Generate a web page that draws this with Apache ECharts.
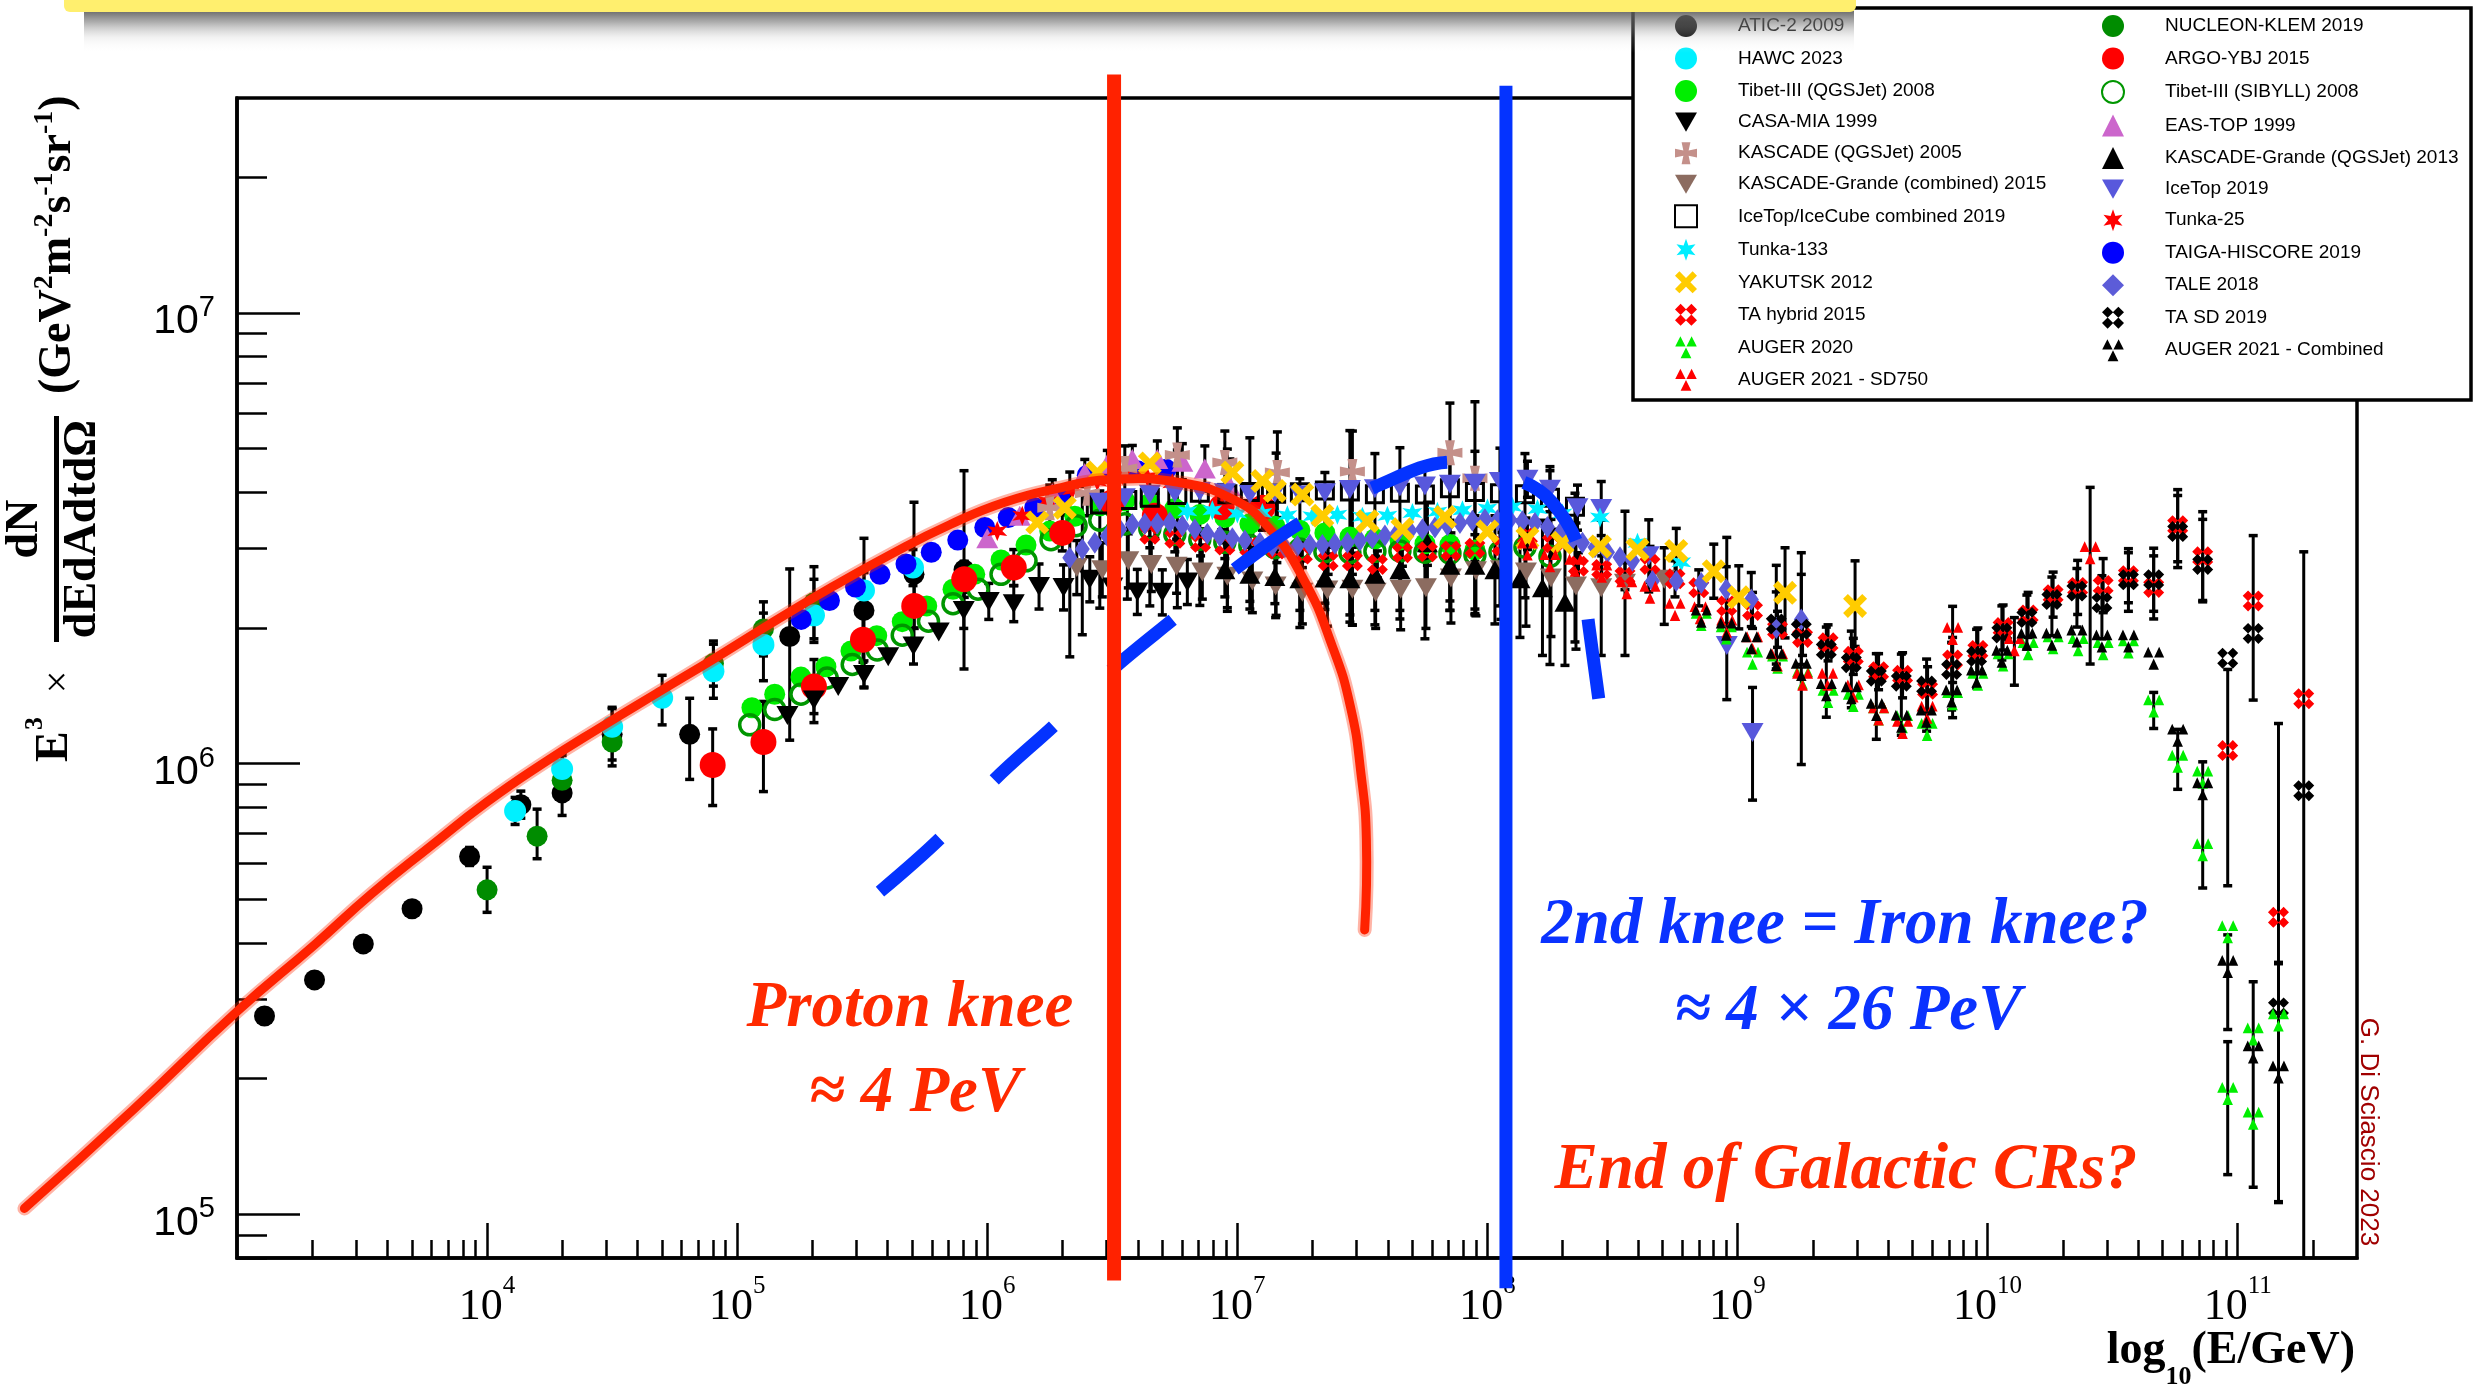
<!DOCTYPE html>
<html>
<head>
<meta charset="utf-8">
<script src="https://cdn.jsdelivr.net/npm/echarts@6/dist/echarts.min.js"></script>
<style>
html,body{margin:0;padding:0;background:#ffffff;}
#chart{width:2487px;height:1390px;}
</style>
</head>
<body>
<div id="chart"></div>
<script>
// ---------------- axes (log10 units) ----------------
const X_TICK_EXP = [4, 5, 6, 7, 8, 9, 10, 11];
const Y_TICK_EXP = [5, 6, 7];
const X_RANGE = [3, 11.477];    // 1e3 .. 3e11 GeV
const Y_RANGE = [4.903, 7.477]; // 8e4 .. 3e7

// each point: [log10(E/GeV), log10(E^3 dN/dEdAdtdOmega), errDown(dex), errUp(dex)]
const ATIC = [[3.11,5.44],[3.31,5.52],[3.505,5.60],[3.70,5.678],[3.93,5.794,0.02,0.02],[4.135,5.909,0.03,0.03],[4.30,5.935,0.05,0.09],[4.50,6.065,0.07,0.06],[4.81,6.065,0.10,0.08],[5.21,6.282,0.23,0.15],[5.507,6.34,0.17,0.16],[5.707,6.42,0.15,0.16],[5.907,6.43,0.22,0.22]];
const NUCLEON = [[4.0,5.72,0.05,0.05],[4.20,5.839,0.05,0.06],[4.30,5.963,0.04,0.04],[4.50,6.048,0.04,0.04],[4.905,6.222,0.05,0.05],[5.105,6.299,0.06,0.06],[5.307,6.357,0.08,0.08]];
const HAWC = [[4.112,5.895,0.03,0.03],[4.30,5.988,0.03,0.03],[4.50,6.082,0.04,0.04],[4.70,6.146,0.06,0.05],[4.905,6.205,0.06,0.06],[5.105,6.264,0.08,0.07],[5.307,6.329,0.06,0.08],[5.507,6.384,0.04,0.04],[5.703,6.435,0.04,0.04]];
const TAIGA = [[5.256,6.320],[5.369,6.362],[5.473,6.392],[5.571,6.420],[5.675,6.443],[5.776,6.469],[5.882,6.496],[5.990,6.524],[6.084,6.546],[6.190,6.568],[6.290,6.597],[6.400,6.640],[6.500,6.648],[6.600,6.650],[6.715,6.653]];
const TIBET_QGS = [[5.059,6.124],[5.150,6.154],[5.255,6.192],[5.355,6.215],[5.455,6.250],[5.558,6.284],[5.660,6.315],[5.758,6.350],[5.863,6.387],[5.950,6.420],[6.055,6.452],[6.155,6.485],[6.250,6.516],[6.350,6.549],[6.450,6.572],[6.550,6.583],[6.650,6.578],[6.750,6.566],[6.850,6.553],[6.950,6.546],[7.050,6.532],[7.150,6.527],[7.250,6.518],[7.350,6.512],[7.450,6.503],[7.550,6.499],[7.650,6.496],[7.750,6.488],[7.850,6.486],[7.950,6.474]];
const TIBET_SIB = [[5.050,6.086],[5.150,6.120],[5.255,6.154],[5.360,6.190],[5.460,6.220],[5.560,6.252],[5.660,6.285],[5.765,6.316],[5.863,6.355],[5.963,6.387],[6.055,6.420],[6.155,6.450],[6.255,6.497],[6.355,6.528],[6.450,6.540],[6.550,6.532],[6.650,6.521],[6.750,6.509],[6.850,6.498],[6.950,6.491],[7.050,6.484],[7.150,6.479],[7.250,6.476],[7.350,6.470],[7.450,6.468],[7.550,6.471],[7.650,6.472],[7.750,6.469],[7.850,6.467],[7.950,6.463],[8.050,6.470],[8.150,6.480],[8.250,6.460]];
const ARGO = [[4.902,5.997,0.09,0.08],[5.105,6.048,0.11,0.09],[5.307,6.171,0.06,0.06],[5.503,6.275,0.05,0.05],[5.708,6.350,0.05,0.10],[5.908,6.409,0.04,0.04],[6.106,6.435,0.04,0.04],[6.300,6.512,0.04,0.04],[6.500,6.580,0.05,0.05],[6.670,6.550,0.05,0.05],[6.937,6.569,0.05,0.05],[7.100,6.568,0.05,0.05]];
const CASA = [[5.201,6.107],[5.307,6.141,0.05,0.05],[5.404,6.171],[5.507,6.198,0.03,0.03],[5.604,6.237],[5.705,6.261,0.04,0.04],[5.806,6.292],[5.906,6.340,0.04,0.04],[6.006,6.360,0.04,0.04],[6.106,6.355,0.04,0.04],[6.207,6.393,0.05,0.05],[6.305,6.391,0.05,0.05],[6.410,6.409,0.05,0.05],[6.500,6.392,0.05,0.05],[6.600,6.381,0.05,0.05],[6.700,6.380,0.05,0.05],[6.800,6.403,0.05,0.05]];
const EASTOP = [[6.00,6.500],[6.13,6.550],[6.26,6.600,0.03,0.03],[6.39,6.645,0.03,0.03],[6.48,6.665,0.03,0.03],[6.58,6.676,0.03,0.03],[6.68,6.676,0.04,0.04],[6.78,6.670,0.04,0.04],[6.87,6.655,0.05,0.05],[6.97,6.616,0.06,0.06]];
const TUNKA25 = [[6.04,6.516],[6.14,6.550],[6.24,6.582],[6.34,6.607],[6.44,6.626],[6.54,6.640],[6.64,6.636],[6.74,6.622]];
const KASCADE = [[6.25,6.568,0.05,0.05],[6.40,6.600,0.05,0.05],[6.55,6.655,0.06,0.05],[6.76,6.685,0.07,0.06],[6.95,6.668,0.08,0.07],[7.16,6.646,0.10,0.09],[7.46,6.648,0.34,0.09],[7.85,6.690,0.35,0.11],[7.95,6.633,0.30,0.17]];
const KG_COMB = [[6.358,6.435,0.06,0.06],[6.460,6.430,0.06,0.06],[6.564,6.450,0.06,0.06],[6.656,6.442,0.06,0.06],[6.757,6.438,0.06,0.06],[6.860,6.425,0.06,0.06],[6.960,6.416,0.07,0.07],[7.060,6.405,0.07,0.07],[7.153,6.394,0.07,0.07],[7.260,6.380,0.07,0.07],[7.360,6.385,0.08,0.08],[7.460,6.387,0.08,0.08],[7.553,6.380,0.08,0.08],[7.653,6.387,0.09,0.09],[7.754,6.390,0.09,0.09],[7.854,6.412,0.10,0.10],[7.954,6.428,0.10,0.10],[8.054,6.430,0.11,0.11],[8.154,6.425,0.12,0.12],[8.254,6.412,0.13,0.13],[8.354,6.394,0.14,0.14],[8.455,6.390,0.15,0.15],[8.550,6.400,0.16,0.16],[8.707,6.409,0.10,0.07]];
const KG_QGS = [[6.950,6.430,0.06,0.06],[7.050,6.420,0.06,0.06],[7.150,6.415,0.06,0.06],[7.250,6.410,0.07,0.07],[7.350,6.412,0.07,0.07],[7.450,6.410,0.08,0.08],[7.550,6.420,0.08,0.08],[7.650,6.430,0.09,0.09],[7.760,6.490,0.09,0.09],[7.850,6.440,0.10,0.10],[7.950,6.440,0.11,0.11],[8.030,6.430,0.12,0.12],[8.130,6.410,0.13,0.13],[8.220,6.390,0.15,0.15],[8.310,6.358,0.14,0.18]];
const ICETOP = [[6.45,6.580],[6.55,6.590],[6.65,6.598],[6.75,6.600],[6.85,6.604],[6.95,6.601],[7.05,6.597],[7.15,6.600],[7.25,6.596],[7.35,6.601],[7.45,6.608],[7.55,6.610],[7.65,6.614],[7.75,6.616],[7.85,6.620],[7.95,6.622],[8.05,6.626],[8.16,6.631,0.04,0.04],[8.25,6.609,0.05,0.05],[8.36,6.568,0.05,0.05],[8.455,6.566,0.06,0.06],[8.645,6.461,0.08,0.08],[8.957,6.262,0.12,0.24],[9.06,6.069,0.15,0.10]];
const ICECUBE = [[6.45,6.575,0.23,0.03],[6.56,6.585,0.22,0.02],[6.65,6.590,0.24,0.04],[6.76,6.596,0.25,0.10],[6.85,6.601,0.25,0.02],[6.96,6.598,0.26,0.10],[7.05,6.603,0.26,0.12],[7.155,6.599,0.27,0.09],[7.25,6.602,0.30,0.03],[7.35,6.606,0.25,0.04],[7.45,6.604,0.29,0.135],[7.55,6.598,0.29,0.09],[7.65,6.601,0.28,0.10],[7.75,6.597,0.32,0.06],[7.85,6.611,0.25,0.08],[7.95,6.603,0.26,0.09],[8.05,6.600,0.25,0.10],[8.15,6.598,0.23,0.09],[8.25,6.590,0.37,0.06],[8.35,6.570,0.30,0.03]];
const TUNKA133 = [[6.80,6.560],[6.90,6.562],[7.00,6.555],[7.10,6.556],[7.20,6.551],[7.30,6.549],[7.40,6.552],[7.50,6.548],[7.60,6.550],[7.70,6.556],[7.80,6.559],[7.90,6.562],[8.00,6.566],[8.10,6.570],[8.20,6.565],[8.30,6.555],[8.45,6.546],[8.60,6.490],[8.775,6.447]];
const TALE = [[6.33,6.457,0.22,0.19],[6.38,6.476,0.19,0.12],[6.43,6.490],[6.48,6.505],[6.53,6.520],[6.58,6.531],[6.63,6.532],[6.68,6.533],[6.73,6.535],[6.78,6.528],[6.83,6.520],[6.88,6.510],[6.93,6.505],[6.98,6.500],[7.03,6.495],[7.09,6.490],[7.14,6.483],[7.19,6.480],[7.24,6.483],[7.29,6.486],[7.34,6.485],[7.39,6.488],[7.44,6.490],[7.49,6.495],[7.54,6.500],[7.59,6.506],[7.64,6.513],[7.69,6.517],[7.74,6.520],[7.79,6.524],[7.84,6.529],[7.89,6.534],[7.94,6.539],[7.99,6.542],[8.04,6.540],[8.09,6.541],[8.14,6.538],[8.19,6.534],[8.24,6.525],[8.29,6.511],[8.34,6.498],[8.38,6.490],[8.43,6.480],[8.48,6.469],[8.53,6.458],[8.58,6.450],[8.66,6.405],[8.755,6.405],[8.855,6.401],[8.955,6.387,0.05,0.05],[9.055,6.364,0.06,0.06],[9.155,6.301,0.08,0.08],[9.255,6.320,0.10,0.10]];
const YAKUTSK = [[6.20,6.535],[6.31,6.568],[6.44,6.646],[6.65,6.666],[6.98,6.646],[7.10,6.627],[7.15,6.605],[7.26,6.597],[7.34,6.550],[7.52,6.538],[7.66,6.520],[7.83,6.547],[8.00,6.515],[8.16,6.500],[8.30,6.490],[8.45,6.482],[8.60,6.475],[8.755,6.472,0.05,0.05],[8.905,6.427,0.06,0.06],[9.005,6.369,0.07,0.07],[9.19,6.379,0.10,0.10],[9.47,6.350,0.09,0.10]];
const TA_HYB = [[6.65,6.509,0.03,0.03],[6.75,6.500,0.03,0.03],[6.853,6.491,0.03,0.03],[6.95,6.485,0.03,0.03],[7.05,6.480,0.03,0.03],[7.158,6.476,0.03,0.03],[7.26,6.465,0.03,0.03],[7.363,6.450,0.03,0.03],[7.46,6.450,0.03,0.03],[7.56,6.442,0.03,0.03],[7.66,6.468,0.03,0.03],[7.76,6.470,0.03,0.03],[7.854,6.472,0.03,0.03],[7.95,6.478,0.03,0.03],[8.058,6.483,0.03,0.03],[8.16,6.505,0.03,0.03],[8.26,6.490,0.03,0.03],[8.364,6.438,0.03,0.03],[8.457,6.431,0.03,0.03],[8.55,6.416,0.03,0.03],[8.65,6.442,0.04,0.04],[8.75,6.410,0.04,0.04],[8.845,6.390,0.04,0.04],[8.957,6.350,0.04,0.04],[9.06,6.340,0.04,0.04],[9.16,6.298,0.04,0.04],[9.26,6.280,0.04,0.04],[9.362,6.268,0.04,0.04],[9.463,6.238,0.04,0.04],[9.564,6.204,0.04,0.04],[9.66,6.196,0.05,0.05],[9.76,6.165,0.05,0.05],[9.86,6.230,0.05,0.05],[9.961,6.251,0.05,0.05],[10.062,6.302,0.05,0.05],[10.162,6.330,0.05,0.05],[10.262,6.375,0.05,0.05],[10.36,6.391,0.06,0.06],[10.462,6.395,0.06,0.06],[10.563,6.417,0.06,0.06],[10.664,6.391,0.07,0.07],[10.76,6.528,0.08,0.08],[10.86,6.459,0.10,0.10],[10.96,6.029,0.30,0.18],[11.062,6.361,0.22,0.145],[11.163,5.659,0.10,0.43],[11.264,6.144]];
const TA_SD = [[9.155,6.310,0.10,0.13],[9.255,6.298,0.30,0.17],[9.355,6.253,0.15,0.05],[9.455,6.224,0.10,0.07],[9.555,6.194,0.14,0.05],[9.655,6.183,0.12,0.06],[9.756,6.172,0.10,0.06],[9.856,6.209,0.09,0.06],[9.956,6.238,0.07,0.06],[10.057,6.290,0.06,0.06],[10.157,6.324,0.07,0.05],[10.257,6.364,0.08,0.05],[10.357,6.383,0.08,0.05],[10.457,6.357,0.08,0.06],[10.563,6.408,0.07,0.06],[10.664,6.408,0.07,0.07],[10.76,6.515,0.08,0.08],[10.86,6.442,0.08,0.10],[10.96,6.234],[11.062,6.289],[11.163,5.458,0.43,0.10],[11.264,5.940,1.3,0.53]];
const AUGER20 = [[8.855,6.320],[8.955,6.290],[9.06,6.234],[9.16,6.225],[9.26,6.190],[9.362,6.149],[9.463,6.140],[9.564,6.110],[9.66,6.093],[9.758,6.076],[9.86,6.144],[9.961,6.187],[10.062,6.230],[10.162,6.255],[10.262,6.268],[10.362,6.264],[10.462,6.255],[10.563,6.259],[10.664,6.128,0.05,0.03],[10.76,6.005],[10.86,5.970],[10.86,5.809],[10.96,5.627],[10.96,5.268,0.18,0.115],[11.062,5.400],[11.062,5.213],[11.163,5.431]];
const AUGER_SD750 = [[8.16,6.476],[8.25,6.450],[8.35,6.440],[8.457,6.427],[8.557,6.390],[8.65,6.380],[8.75,6.342],[8.85,6.335],[8.957,6.305],[9.06,6.268],[9.16,6.230],[9.26,6.187],[9.36,6.187],[9.463,6.161],[9.564,6.110],[9.66,6.080],[9.758,6.114],[9.86,6.289,0.187,0.06],[10.107,6.264,0.09,0.06],[10.41,6.468,0.247,0.145]];
const AUGER_COMB = [[8.855,6.327],[8.955,6.298],[9.055,6.268],[9.155,6.231],[9.255,6.209],[9.355,6.164],[9.455,6.157],[9.555,6.120],[9.655,6.094],[9.755,6.105],[9.856,6.150],[9.956,6.194],[10.057,6.238],[10.157,6.276],[10.257,6.276],[10.357,6.283],[10.457,6.272],[10.563,6.272],[10.664,6.234],[10.76,6.063,0.12,0.013],[10.86,5.944,0.22,0.06],[10.96,5.550,0.14,0.07],[11.062,5.360,0.30,0.156],[11.163,5.316,0.29,0.24]];

// hand-drawn annotation curves (log10 E, log10 flux)
const PROTON_CURVE = [[2.15,5.013],[2.585,5.232],[3.0,5.45],[3.31,5.598],[3.54,5.712],[3.77,5.815],[4.0,5.915],[4.231,6.003],[4.461,6.083],[4.69,6.160],[4.92,6.237],[5.15,6.316],[5.38,6.392],[5.62,6.466],[5.85,6.530],[6.07,6.580],[6.30,6.613],[6.48,6.630],[6.765,6.624],[6.98,6.587],[7.12,6.527],[7.265,6.409],[7.38,6.260],[7.452,6.127],[7.494,5.979],[7.516,5.831],[7.509,5.631]];
const IRON_CURVE = [[5.571,5.716],[5.815,5.836],[6.028,5.964],[6.272,6.087],[6.500,6.209],[6.752,6.324],[7.001,6.436],[7.257,6.536],[7.545,6.613],[7.854,6.669],[8.146,6.624],[8.258,6.580],[8.362,6.482],[8.406,6.304],[8.447,6.136]];
const PROTON_KNEE_LINE = [[6.507,7.529],[6.507,4.853]];
const IRON_KNEE_LINE = [[8.074,7.504],[8.074,4.836]];

const LEGEND_COL1 = ['ATIC-2 2009','HAWC 2023','Tibet-III (QGSJet) 2008','CASA-MIA 1999','KASCADE (QGSJet) 2005','KASCADE-Grande (combined) 2015','IceTop/IceCube combined 2019','Tunka-133','YAKUTSK 2012','TA hybrid 2015','AUGER 2020','AUGER 2021 - SD750'];
const LEGEND_COL2 = ['NUCLEON-KLEM 2019','ARGO-YBJ 2015','Tibet-III (SIBYLL) 2008','EAS-TOP 1999','KASCADE-Grande (QGSJet) 2013','IceTop 2019','Tunka-25','TAIGA-HISCORE 2019','TALE 2018','TA SD 2019','AUGER 2021 - Combined'];

// ---------------- styling ----------------
const SERIF = '"Liberation Serif", "DejaVu Serif", serif';
const SANS = '"Liberation Sans", Arial, sans-serif';
const SYM = {
  itri: 'path://M0,0L100,0L50,87Z',
  cross: 'path://M30,0H70L62,38L100,30V70L62,62L70,100H30L38,62L0,70V30L38,38Z',
  xcross: 'path://M20,0L50,30L80,0L100,20L70,50L100,80L80,100L50,70L20,100L0,80L30,50L0,20Z',
  star: 'path://M50,0L61,31L93.3,25L72,50L93.3,75L61,69L50,100L39,69L6.7,75L28,50L6.7,25L39,31Z',
  fourdiam: 'path://M27,3L51,27L27,51L3,27ZM73,3L97,27L73,51L49,27ZM27,49L51,73L27,97L3,73ZM73,49L97,73L73,97L49,73Z',
  threetri: 'path://M25,0L48,46L2,46ZM75,0L98,46L52,46ZM50,50L74,98L26,98Z'
};

const DATASETS = [
  {name:'ATIC-2 2009', d:ATIC, sym:'circle', size:21, color:'#000000'},
  {name:'NUCLEON-KLEM 2019', d:NUCLEON, sym:'circle', size:21, color:'#008c00'},
  {name:'HAWC 2023', d:HAWC, sym:'circle', size:22, color:'#00f0ff'},
  {name:'TAIGA-HISCORE 2019', d:TAIGA, sym:'circle', size:21, color:'#0000ff'},
  {name:'Tibet-III (QGSJet) 2008', d:TIBET_QGS, sym:'circle', size:21, color:'#00ee00'},
  {name:'Tibet-III (SIBYLL) 2008', d:TIBET_SIB, sym:'circle', size:20, color:'rgba(0,0,0,0)', border:'#009600', bw:3.5},
  {name:'ARGO-YBJ 2015', d:ARGO, sym:'circle', size:26, color:'#ff0000'},
  {name:'CASA-MIA 1999', d:CASA, sym:SYM.itri, size:[22,19], color:'#000000'},
  {name:'EAS-TOP 1999', d:EASTOP, sym:'triangle', size:[22,20], color:'#cc66cc'},
  {name:'Tunka-25', d:TUNKA25, sym:SYM.star, size:20, color:'#ff0000'},
  {name:'KASCADE (QGSJet) 2005', d:KASCADE, sym:SYM.cross, size:25, color:'#c4908a'},
  {name:'KASCADE-Grande (combined) 2015', d:KG_COMB, sym:SYM.itri, size:[22,19], color:'#8c6c60'},
  {name:'KASCADE-Grande (QGSJet) 2013', d:KG_QGS, sym:'triangle', size:[21,19], color:'#000000'},
  {name:'IceTop/IceCube combined 2019', d:ICECUBE, sym:'rect', size:17, color:'rgba(0,0,0,0)', border:'#000000', bw:3},
  {name:'IceTop 2019', d:ICETOP, sym:SYM.itri, size:[22,19], color:'#5858dc'},
  {name:'Tunka-133', d:TUNKA133, sym:SYM.star, size:20, color:'#00eeff'},
  {name:'TA hybrid 2015', d:TA_HYB, sym:SYM.fourdiam, size:21, color:'#ff0000'},
  {name:'TALE 2018', d:TALE, sym:'diamond', size:[15,22], color:'#5c5cd8'},
  {name:'YAKUTSK 2012', d:YAKUTSK, sym:SYM.xcross, size:24, color:'#ffcc00'},
  {name:'TA SD 2019', d:TA_SD, sym:SYM.fourdiam, size:21, color:'#000000'},
  {name:'AUGER 2020', d:AUGER20, sym:SYM.threetri, size:[21,23], color:'#00ee00'},
  {name:'AUGER 2021 - SD750', d:AUGER_SD750, sym:SYM.threetri, size:[21,23], color:'#ff0000'},
  {name:'AUGER 2021 - Combined', d:AUGER_COMB, sym:SYM.threetri, size:[21,23], color:'#000000'}
];

function errBar(params, api) {
  const x = api.value(0);
  let lo = api.value(1), hi = api.value(2);
  const loCap = lo >= Y_RANGE[0], hiCap = hi <= Y_RANGE[1];
  lo = Math.max(lo, Y_RANGE[0]);
  hi = Math.min(hi, Y_RANGE[1]);
  const a = api.coord([x, lo]), b = api.coord([x, hi]);
  const st = {stroke:'#000', lineWidth:3};
  const ch = [{type:'line', shape:{x1:a[0], y1:a[1], x2:b[0], y2:b[1]}, style:st}];
  if (loCap) ch.push({type:'line', shape:{x1:a[0]-4.5, y1:a[1], x2:a[0]+4.5, y2:a[1]}, style:{stroke:'#000', lineWidth:3.5}});
  if (hiCap) ch.push({type:'line', shape:{x1:b[0]-4.5, y1:b[1], x2:b[0]+4.5, y2:b[1]}, style:{stroke:'#000', lineWidth:3.5}});
  return {type:'group', children:ch};
}

const series = [];
DATASETS.forEach(ds => {
  const bars = ds.d.filter(p => (p[2] || p[3])).map(p => [p[0], p[1] - (p[2] || 0), p[1] + (p[3] || 0)]);
  series.push({type:'custom', renderItem:errBar, data:bars, encode:{x:0, y:[1,2]}, silent:true, z:3});
  series.push({
    type:'scatter', name:ds.name, data:ds.d.map(p => [p[0], p[1]]),
    symbol:ds.sym, symbolSize:ds.size, silent:true, z:3,
    itemStyle:{color:ds.color, opacity:1, borderColor:ds.border || ds.color, borderWidth:ds.bw || 0},
    emphasis:{disabled:true}
  });
});
// proton-knee sketch: drawn through the axes' coordinate mapping, allowed to run past the frame
function protonCurve(params, api) {
  const pts = PROTON_CURVE.map(p => api.coord(p));
  return {type:'group', children:[
    {type:'polyline', shape:{points:pts, smooth:0.5}, style:{stroke:'rgba(255,40,0,0.35)', lineWidth:14, fill:null, lineCap:'round', lineJoin:'round'}},
    {type:'polyline', shape:{points:pts, smooth:0.5}, style:{stroke:'#ff2200', lineWidth:9, fill:null, lineCap:'round', lineJoin:'round'}}
  ]};
}
series.push({type:'custom', renderItem:protonCurve, data:[[6.5, 6.6]], clip:false, silent:true, z:6});
series.push({type:'line', data:IRON_CURVE, smooth:0.35, showSymbol:false, clip:false, silent:true, z:6,
  lineStyle:{color:'#0433ff', width:13, type:[80,80], cap:'butt'}});
series.push({type:'line', data:PROTON_KNEE_LINE, showSymbol:false, clip:false, silent:true, z:7,
  lineStyle:{color:'#ff2200', width:14}});
series.push({type:'line', data:IRON_KNEE_LINE, showSymbol:false, clip:false, silent:true, z:7,
  lineStyle:{color:'#0433ff', width:13}});

const minorX = [], minorY = [];
for (let n = 3; n <= 11; n++) for (let k = 2; k <= 9; k++) { const v = Math.log10(k * Math.pow(10, n)); if (v < X_RANGE[1]) minorX.push(v); }
for (let n = 4; n <= 7; n++) for (let k = 2; k <= 9; k++) { const v = Math.log10(k * Math.pow(10, n)); if (v > Y_RANGE[0] && v < Y_RANGE[1]) minorY.push(v); }

const legendBase = {
  orient:'vertical', top:15, itemWidth:22, itemHeight:22, itemGap:10.5, padding:0,
  selectedMode:false, z:60,
  textStyle:{fontFamily:SANS, fontSize:19, color:'#000', padding:[0,0,0,36]}
};

const ANNOT = {fontFamily:SERIF, fontStyle:'italic', fontWeight:'bold', fontSize:65, align:'center', verticalAlign:'middle'};

const option = {
  animation:false,
  backgroundColor:'#ffffff',
  grid:{left:237, top:98, width:2120, height:1160, show:true, borderColor:'#000', borderWidth:3.5, backgroundColor:'transparent'},
  xAxis:[
    {type:'value', min:X_RANGE[0], max:X_RANGE[1], position:'bottom',
      axisLine:{show:true, lineStyle:{color:'#000', width:3.5}},
      axisTick:{show:true, inside:true, length:35, customValues:X_TICK_EXP, lineStyle:{color:'#000', width:2.5}},
      axisLabel:{show:true, customValues:X_TICK_EXP, margin:27, formatter:v => '{b|10}{s|' + v + '}',
        rich:{b:{fontFamily:SERIF, fontSize:44, lineHeight:44, color:'#000', verticalAlign:'bottom'},
              s:{fontFamily:SERIF, fontSize:25, lineHeight:25, color:'#000', padding:[0,0,30,0], verticalAlign:'bottom'}}},
      splitLine:{show:false}},
    {type:'value', min:X_RANGE[0], max:X_RANGE[1], position:'bottom',
      axisLine:{show:false},
      axisTick:{show:true, inside:true, length:18, customValues:minorX, lineStyle:{color:'#000', width:2.5}},
      axisLabel:{show:false}, splitLine:{show:false}}
  ],
  yAxis:[
    {type:'value', min:Y_RANGE[0], max:Y_RANGE[1], position:'left',
      axisLine:{show:true, lineStyle:{color:'#000', width:3.5}},
      axisTick:{show:true, inside:true, length:63, customValues:Y_TICK_EXP, lineStyle:{color:'#000', width:2.5}},
      axisLabel:{show:true, customValues:Y_TICK_EXP, margin:22, padding:[18,0,0,0], formatter:v => '{b|10}{s|' + v + '}',
        rich:{b:{fontFamily:SANS, fontSize:41, lineHeight:41, color:'#000', verticalAlign:'bottom'},
              s:{fontFamily:SANS, fontSize:29, lineHeight:29, color:'#000', padding:[0,0,20,0], verticalAlign:'bottom'}}},
      splitLine:{show:false}},
    {type:'value', min:Y_RANGE[0], max:Y_RANGE[1], position:'left',
      axisLine:{show:false},
      axisTick:{show:true, inside:true, length:30, customValues:minorY, lineStyle:{color:'#000', width:2.5}},
      axisLabel:{show:false}, splitLine:{show:false}}
  ],
  legend:[
    Object.assign({}, legendBase, {data:LEGEND_COL1, left:1674}),
    Object.assign({}, legendBase, {data:LEGEND_COL2, left:2101})
  ],
  graphic:[
    {type:'rect', z:50, shape:{x:1633, y:8, width:838, height:392}, style:{fill:'#ffffff', stroke:'#000', lineWidth:3.5}},
    // drop shadow of the highlighted (cut-off) title band
    {type:'rect', z:99, shape:{x:84, y:9, width:1770, height:44},
      style:{fill:new echarts.graphic.LinearGradient(0, 0, 0, 1, [
        {offset:0, color:'rgba(85,85,85,0.95)'},
        {offset:0.3, color:'rgba(120,120,120,0.6)'},
        {offset:0.65, color:'rgba(190,190,190,0.2)'},
        {offset:1, color:'rgba(255,255,255,0)'}])}},
    {type:'rect', z:100, shape:{x:64, y:-40, width:1792, height:52, r:6},
      style:{fill:'#ffef6e'}},
    {type:'group', x:55, y:762, rotation:Math.PI/2, z:70, children:[
      {type:'text', x:0, y:0, style:{text:'E', fontFamily:SERIF, fontWeight:'bold', fontSize:46, fill:'#000', align:'left', verticalAlign:'middle'}},
      {type:'text', x:32, y:-20, style:{text:'3', fontFamily:SERIF, fontWeight:'bold', fontSize:26, fill:'#000', align:'left', verticalAlign:'middle'}},
      {type:'text', x:80, y:4, style:{text:'×', fontFamily:SERIF, fontSize:40, fill:'#000', align:'center', verticalAlign:'middle'}},
      {type:'rect', shape:{x:120, y:-1, width:226, height:5}, style:{fill:'#000'}},
      {type:'text', x:233, y:-7, style:{text:'dN', fontFamily:SERIF, fontWeight:'bold', fontSize:46, fill:'#000', align:'center', verticalAlign:'bottom'}},
      {type:'text', x:233, y:5, style:{text:'dEdAdtdΩ', fontFamily:SERIF, fontWeight:'bold', fontSize:46, fill:'#000', align:'center', verticalAlign:'top'}},
      {type:'text', x:368, y:2, style:{
        text:'{b|(GeV}{s|2}{b|m}{s|-2}{b|s}{s|-1}{b|sr}{s|-1}{b|)}', align:'left', verticalAlign:'middle',
        rich:{b:{fontFamily:SERIF, fontWeight:'bold', fontSize:46, lineHeight:48, fill:'#000', verticalAlign:'bottom'},
              s:{fontFamily:SERIF, fontWeight:'bold', fontSize:28, lineHeight:28, fill:'#000', padding:[0,0,22,0], verticalAlign:'bottom'}}}}
    ]},
    {type:'text', z:70, x:2355, y:1328, style:{
      text:'{b|log}{sub|10}{b|(E/GeV)}', align:'right', verticalAlign:'top',
      rich:{b:{fontFamily:SERIF, fontWeight:'bold', fontSize:46, lineHeight:46, fill:'#000', verticalAlign:'top'},
            sub:{fontFamily:SERIF, fontWeight:'bold', fontSize:26, lineHeight:26, fill:'#000', padding:[36,0,0,0], verticalAlign:'top'}}}},
    {type:'text', z:70, x:910, y:1009, style:Object.assign({text:'Proton knee', fill:'#ff2a00'}, ANNOT)},
    {type:'text', z:70, x:915, y:1094, style:Object.assign({text:'≈ 4 PeV', fill:'#ff2a00'}, ANNOT)},
    {type:'text', z:70, x:1845, y:926, style:Object.assign({text:'2nd knee = Iron knee?', fill:'#0a32ff'}, ANNOT)},
    {type:'text', z:70, x:1848, y:1012, style:Object.assign({text:'≈ 4 × 26 PeV', fill:'#0a32ff'}, ANNOT)},
    {type:'text', z:70, x:1846, y:1171, style:Object.assign({text:'End of Galactic CRs?', fill:'#ff2a00'}, ANNOT)},
    {type:'text', z:70, x:2368, y:1132, rotation:-Math.PI/2, style:{text:'G. Di Sciascio 2023', fontFamily:SANS, fontSize:26, fill:'#a00000', align:'center', verticalAlign:'middle'}}
  ],
  series: series
};

const chart = echarts.init(document.getElementById('chart'), null, {renderer:'canvas', width:2487, height:1390});
chart.setOption(option);
</script>
</body>
</html>
